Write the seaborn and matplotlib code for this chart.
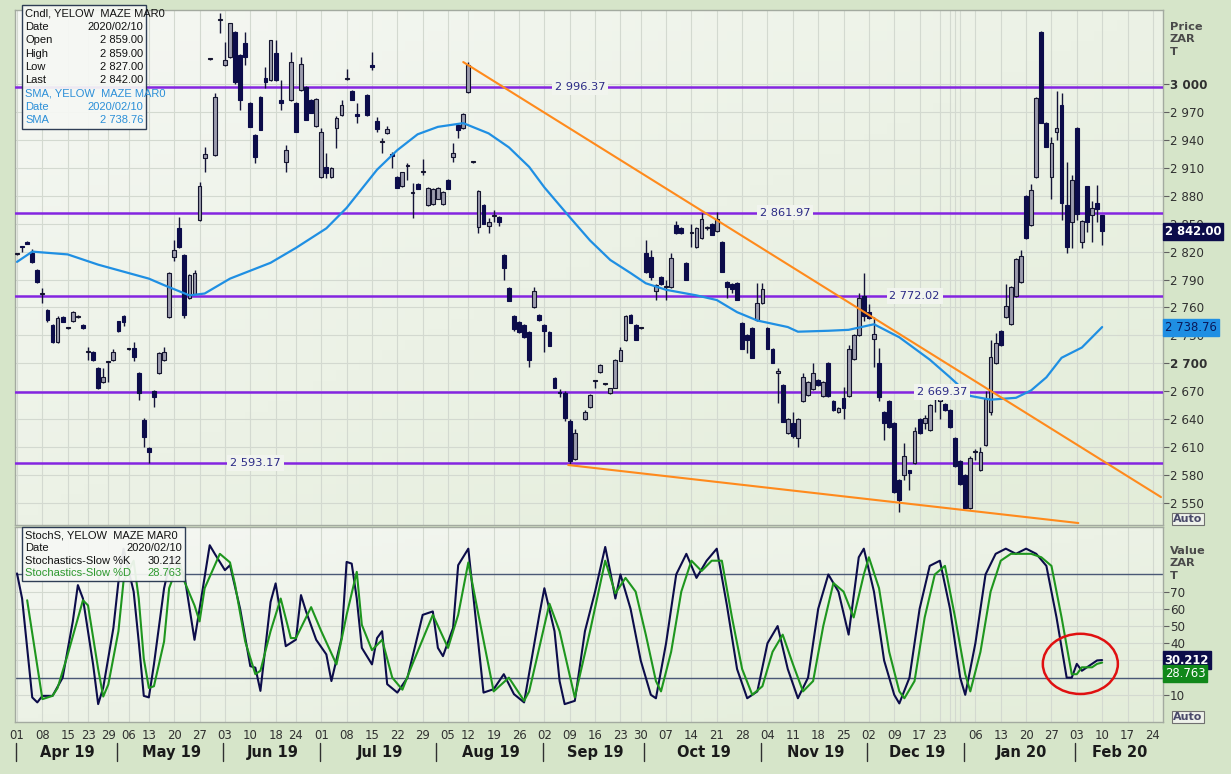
import numpy as np
import pandas as pd
import matplotlib
matplotlib.use("Agg")
import matplotlib.pyplot as plt
import matplotlib.transforms as mtransforms
from matplotlib.colors import LinearSegmentedColormap
from matplotlib.patches import Rectangle, Ellipse
import seaborn as sns

sns.set_theme(style="white")
plt.rcParams["font.family"] = ["DejaVu Sans"]

NAN = np.nan
# ---------------------------------------------------------------- candles
# one row per trading day, 2019-04-01 .. 2020-02-10 (index = trading day)
OPEN = [2817, 2826, 2830, 2819, 2800, 2774, 2757, 2741, 2723, 2750,
        2738, 2745, 2750, 2741, 2712, 2712, 2695, 2680, 2701, 2704,
        2745, 2751, 2715, 2716, 2690, 2639, 2609, 2670, 2690, 2704,
        2750, 2814, 2845, 2816, 2770, 2775, 2854, 2921, 3027, 2924,
        3069, 3020, 3029, 3056, 3031, 3044, 2980, 2945, 2986, 3006,
        3004, 3033, 2983, 2916, 2983, 2980, 2994, 2997, 2983, 2955,
        2900, 2911, 2900, 2953, 2967, 3005, 2993, 2968, NAN, 2988,
        3020, 2960, 2938, 2947, 2925, 2900, 2890, 2912, 2883, 2893,
        2905, 2870, 2871, 2877, 2871, 2897, 2922, 2956, 2953, 2991,
        2916, 2846, 2870, 2847, 2858, 2857, 2816, 2781, 2751, 2744,
        2741, 2734, 2760, 2752, 2741, 2734, 2684, 2669, 2668, 2638,
        2597, NAN, 2640, 2653, 2681, 2691, 2678, 2668, 2674, 2703,
        2725, 2752, 2741, 2738, 2818, 2814, 2778, 2793, 2782, 2782,
        2849, 2845, 2808, 2840, 2825, 2835, 2845, 2850, 2842, 2830,
        2787, 2785, 2786, 2743, 2730, 2738, 2747, 2765, 2738, 2715,
        2690, 2677, 2625, 2636, 2620, 2660, 2666, 2672, 2682, 2665,
        2700, 2660, 2648, 2663, 2665, 2705, 2730, 2772, 2755, 2726,
        2700, 2648, 2660, 2636, 2575, 2580, 2585, 2593, 2640, 2636,
        2628, 2663, 2660, 2656, 2650, 2620, 2595, 2580, 2545, 2605,
        2585, 2612, 2648, 2700, 2735, 2750, 2742, 2772, 2787, 2880,
        2849, 2900, 3056, 2958, 2900, 2948, 2977, 2870, 2852, 2953,
        2830, 2890, 2859, 2872, 2859]
HIGH = [2818, 2826, 2831, 2823, 2801, 2781, 2758, 2742, 2751, 2751,
        2738, 2756, 2752, 2742, 2718, 2713, 2696, 2695, 2702, 2715,
        2746, 2752, 2716, 2723, 2691, 2641, 2610, 2671, 2712, 2718,
        2798, 2832, 2857, 2817, 2796, 2800, 2895, 2932, 3028, 2990,
        3076, 3045, 3066, 3057, 3032, 3056, 2981, 2946, 2987, 3018,
        3047, 3047, 3004, 2935, 3034, 2981, 3029, 2998, 2984, 2985,
        2953, 2926, 2911, 2966, 2983, 3016, 2994, 2980, NAN, 2989,
        3034, 2965, 2942, 2955, 2927, 2901, 2905, 2915, 2894, 2894,
        2920, 2889, 2888, 2889, 2885, 2898, 2937, 2957, 2969, 3024,
        2916, 2886, 2871, 2856, 2865, 2858, 2817, 2782, 2752, 2745,
        2742, 2735, 2782, 2753, 2742, 2735, 2685, 2672, 2670, 2640,
        2630, NAN, 2650, 2667, 2682, 2699, 2679, 2674, 2705, 2718,
        2752, 2753, 2742, 2739, 2833, 2822, 2785, 2794, 2790, 2818,
        2853, 2846, 2809, 2850, 2846, 2862, 2847, 2851, 2863, 2831,
        2788, 2786, 2787, 2744, 2731, 2739, 2786, 2786, 2739, 2716,
        2695, 2678, 2641, 2648, 2641, 2690, 2681, 2700, 2683, 2681,
        2701, 2661, 2653, 2675, 2720, 2731, 2776, 2797, 2764, 2750,
        2716, 2649, 2661, 2637, 2576, 2615, 2586, 2632, 2641, 2645,
        2656, 2670, 2670, 2657, 2651, 2621, 2596, 2581, 2600, 2608,
        2610, 2670, 2725, 2733, 2736, 2785, 2783, 2813, 2822, 2881,
        2893, 2986, 3057, 2959, 2943, 2993, 2990, 2916, 2902, 2954,
        2854, 2891, 2874, 2892, 2859]
LOW = [2816, 2820, 2828, 2808, 2786, 2765, 2744, 2722, 2722, 2744,
       2737, 2744, 2749, 2737, 2704, 2703, 2672, 2679, 2680, 2703,
       2734, 2740, 2714, 2703, 2661, 2610, 2593, 2653, 2689, 2703,
       2749, 2810, 2824, 2749, 2769, 2774, 2853, 2905, 3026, 2923,
       3055, 3019, 3028, 3000, 2972, 3020, 2954, 2915, 2951, 2996,
       3003, 3003, 2972, 2905, 2982, 2948, 2993, 2961, 2969, 2954,
       2899, 2899, 2899, 2931, 2966, 3004, 2983, 2958, NAN, 2966,
       3015, 2948, 2926, 2946, 2910, 2888, 2889, 2897, 2856, 2887,
       2902, 2869, 2870, 2876, 2870, 2887, 2916, 2942, 2952, 2990,
       2915, 2840, 2850, 2840, 2852, 2848, 2789, 2767, 2735, 2733,
       2727, 2696, 2759, 2746, 2712, 2719, 2673, 2664, 2638, 2592,
       2596, NAN, 2639, 2652, 2674, 2690, 2677, 2667, 2673, 2702,
       2724, 2743, 2725, 2737, 2797, 2790, 2768, 2784, 2768, 2781,
       2839, 2839, 2790, 2825, 2824, 2834, 2843, 2838, 2841, 2798,
       2770, 2776, 2768, 2715, 2711, 2706, 2746, 2764, 2715, 2700,
       2657, 2637, 2624, 2620, 2610, 2659, 2665, 2671, 2676, 2664,
       2664, 2649, 2647, 2640, 2664, 2704, 2729, 2745, 2748, 2696,
       2660, 2618, 2631, 2561, 2540, 2575, 2564, 2592, 2624, 2630,
       2627, 2648, 2640, 2649, 2631, 2589, 2569, 2545, 2544, 2596,
       2584, 2611, 2645, 2699, 2719, 2749, 2741, 2771, 2786, 2834,
       2848, 2899, 2958, 2932, 2876, 2940, 2854, 2818, 2824, 2854,
       2824, 2841, 2830, 2852, 2827]
CLOSE = [2817, 2825, 2828, 2809, 2787, 2774, 2747, 2723, 2749, 2744,
         2738, 2755, 2751, 2738, 2712, 2704, 2673, 2685, 2701, 2712,
         2735, 2744, 2715, 2707, 2668, 2621, 2605, 2664, 2711, 2712,
         2797, 2822, 2825, 2752, 2795, 2797, 2890, 2925, 3027, 2986,
         3069, 3026, 3066, 3002, 2983, 3029, 2954, 2922, 2951, 3002,
         3047, 3004, 2980, 2929, 3024, 2948, 3022, 2961, 2969, 2984,
         2948, 2904, 2910, 2963, 2978, 3006, 2983, 2966, NAN, 2967,
         3018, 2952, 2938, 2952, 2923, 2888, 2905, 2912, 2883, 2887,
         2905, 2888, 2887, 2888, 2884, 2887, 2926, 2951, 2968, 3020,
         2916, 2885, 2850, 2852, 2858, 2852, 2802, 2767, 2737, 2734,
         2728, 2704, 2778, 2747, 2735, 2719, 2674, 2668, 2641, 2595,
         2625, NAN, 2648, 2666, 2681, 2698, 2678, 2673, 2704, 2714,
         2751, 2743, 2725, 2738, 2798, 2793, 2784, 2785, 2782, 2813,
         2840, 2840, 2790, 2840, 2845, 2855, 2845, 2838, 2855, 2798,
         2782, 2780, 2768, 2715, 2725, 2706, 2765, 2780, 2715, 2700,
         2692, 2637, 2640, 2622, 2640, 2685, 2680, 2690, 2677, 2680,
         2665, 2650, 2652, 2652, 2715, 2730, 2770, 2751, 2749, 2732,
         2664, 2636, 2632, 2562, 2553, 2600, 2582, 2627, 2625, 2641,
         2655, 2663, 2660, 2650, 2632, 2590, 2570, 2545, 2598, 2605,
         2605, 2662, 2707, 2722, 2720, 2762, 2782, 2812, 2815, 2835,
         2886, 2985, 2958, 2932, 2937, 2953, 2872, 2825, 2897, 2860,
         2853, 2852, 2867, 2866, 2842]

# ---------------------------------------------------------------- SMA
SMA_IDX = [0, 3, 10, 16, 26, 29, 34, 37, 42, 50, 55, 61, 65, 71, 75, 79,
           83, 88, 93, 97, 101, 104, 109, 113, 117, 121, 124, 128, 134,
           138, 142, 146, 152, 154, 160, 164, 169, 174, 180, 184, 188,
           192, 197, 200, 203, 206, 210, 214]
SMA_VAL = [2809, 2820, 2817, 2806, 2791, 2784, 2773, 2775, 2791, 2808,
           2824, 2845, 2867, 2908, 2929, 2946, 2954, 2958, 2947, 2932,
           2911, 2889, 2857, 2832, 2811, 2797, 2786, 2779, 2773, 2768,
           2755, 2746, 2739, 2734, 2735, 2736, 2742, 2728, 2704, 2685,
           2665, 2661, 2663, 2671, 2685, 2706, 2717, 2739]

# ---------------------------------------------------------------- stochastics
K_IDX = [0, 1, 3, 4, 5, 7, 9, 11, 12, 13, 15, 16, 17, 19, 20, 21, 23, 24,
         25, 26, 27, 29, 30, 31, 33, 35, 36, 38, 39, 41, 42, 44, 46, 47,
         48, 50, 51, 53, 55, 56, 57, 59, 61, 62, 64, 65, 66, 67, 68, 70,
         71, 72, 73, 75, 77, 80, 82, 83, 84, 86, 87, 89, 92, 94, 96, 98,
         100, 103, 104, 106, 107, 108, 110, 112, 114, 116, 117, 118, 119,
         121, 123, 125, 126, 128, 130, 132, 134, 136, 138, 140, 142, 144,
         146, 148, 150, 152, 154, 156, 158, 160, 162, 164, 166, 167, 169,
         171, 173, 174, 176, 178, 180, 182, 184, 186, 187, 189, 191, 193,
         195, 197, 199, 201, 203, 205, 207, 208, 209, 210, 212, 213, 214]
K_VAL = [80.6, 66, 8.5, 5.6, 9.4, 9.4, 20, 52.7, 73.8, 66, 27.7, 4.6,
         14.2, 48.8, 75.8, 95, 70, 41, 9.4, 8.5, 27.7, 72, 85, 90, 79.6,
         42, 60, 97, 92, 82.5, 85.4, 60, 26.7, 25.8, 12.3, 64, 74.8,
         38.3, 42.1, 68, 58.5, 42, 33.5, 18, 43, 87.3, 86.3, 66, 37.3,
         27.7, 43, 47, 16.2, 11.3, 20, 56.5, 58.5, 37.3, 32.5, 49, 85.4,
         95, 11.3, 13.3, 22, 10.4, 5.6, 56.5, 72, 47, 18, 4.6, 6.5, 47,
         70, 96, 81.5, 66, 80, 60, 30, 10, 8, 40, 80, 92, 78, 88, 95, 62,
         25, 8, 12, 40, 50, 25, 8, 20, 60, 80, 70, 45, 90, 95, 70, 30,
         10, 5, 20, 60, 85, 88, 60, 20, 10, 40, 80, 92, 95, 92, 95, 92,
         85, 55, 20, 20, 28, 24, 28, 30, 30.212]
D_IDX = [2, 5, 7, 8, 10, 13, 14, 16, 17, 18, 20, 21, 23, 24, 25, 26, 27,
         29, 30, 32, 33, 35, 36, 37, 40, 42, 43, 45, 47, 48, 50, 52, 54,
         55, 58, 60, 63, 65, 67, 68, 70, 72, 74, 76, 78, 82, 85, 87, 89,
         91, 94, 97, 100, 101, 105, 107, 110, 113, 116, 118, 120, 122,
         124, 126, 127, 129, 131, 133, 135, 137, 139, 141, 143, 145, 147,
         149, 151, 153, 155, 157, 159, 161, 163, 165, 167, 168, 170, 172,
         174, 175, 177, 179, 181, 183, 185, 187, 188, 190, 192, 194, 196,
         198, 200, 202, 204, 206, 208, 209, 210, 212, 213, 214]
D_VAL = [65, 7.5, 9.4, 14, 33.5, 65, 62, 25, 9, 16, 47, 76, 88, 66, 31,
         14, 15, 41, 72, 88, 76, 62, 52.7, 72, 92, 87, 74, 41, 22, 24, 47,
         66, 43, 43, 61, 47, 27.7, 56.5, 81.5, 50.7, 36, 42, 20, 13, 28,
         56.5, 37.3, 56.5, 87, 56.5, 12, 20, 6.5, 12, 63, 47, 8.5, 47, 88,
         69, 78, 70, 45, 18, 12, 35, 70, 88, 82, 88, 88, 55, 25, 10, 15,
         35, 45, 28, 12, 18, 50, 75, 70, 55, 80, 90, 72, 35, 12, 8, 18,
         55, 80, 85, 55, 22, 12, 35, 70, 88, 92, 92, 92, 90, 85, 55, 22,
         22, 26, 26, 28, 28.763]

# ---------------------------------------------------------------- levels / trend
LEVELS = [2996.37, 2861.97, 2772.02, 2669.37, 2593.17]
LEVEL_LABEL_IDX = [111, 151.5, 177, 182.5, 47]
TREND_UP_IDX = [88, 225.6]
TREND_UP_VAL = [3023.6, 2556.4]
TREND_LO_IDX = [108.7, 209.3]
TREND_LO_VAL = [2590.8, 2528.5]

# ---------------------------------------------------------------- axis labels
TICK_IDX = [0, 5, 10, 14, 18, 22, 26, 31, 36, 41, 46, 51, 55, 60, 65, 70,
            75, 80, 85, 89, 94, 99, 104, 109, 114, 119, 123, 128, 133, 138,
            143, 148, 153, 158, 163, 168, 173, 178, 182, 184, 185, 186, 189,
            194, 199, 204, 209, 214, 219, 224]
TICK_LBL = ["01", "08", "15", "23", "29", "06", "13", "20", "27", "03", "10",
            "18", "24", "01", "08", "15", "22", "29", "05", "12", "19", "26",
            "02", "09", "16", "23", "30", "07", "14", "21", "28", "04", "11",
            "18", "25", "02", "09", "17", "23", "", "", "", "06", "13", "20",
            "27", "03", "10", "17", "24"]
MONTH_START = [0, 20, 41, 60, 83, 104, 124, 147, 168, 187, 209]
MONTH_LBL = ["Apr 19", "May 19", "Jun 19", "Jul 19", "Aug 19", "Sep 19",
             "Oct 19", "Nov 19", "Dec 19", "Jan 20", "Feb 20"]
PRICE_TICKS = list(range(2550, 3001, 30))
STOCH_TICKS = [10, 20, 30, 40, 50, 60, 70]

W, H = 1231, 774
FIG_BG = "#d6e5c9"
AX_BG = "#eef3ea"
NAVY = "#0c0c4a"
GREY = "#9c9cae"
PURPLE = "#8425e0"
ORANGE = "#ff8a1c"
BLUE = "#1f8fe3"
GREEN = "#1e961e"
GRID = "#d3d9d0"
BG_CMAP = LinearSegmentedColormap.from_list("bg", ["#f5f7f3", "#e3edd9"])
BOX_FONT = ["Liberation Sans", "DejaVu Sans"]


def px_box(x0, y0, x1, y1):
    return [x0 / W, 1 - y1 / H, (x1 - x0) / W, (y1 - y0) / H]


def fx(x):
    return x / W


def fy(y):
    return 1 - y / H


def spaced(v, nd=0):
    return f"{v:,.{nd}f}".replace(",", " ")


def shade(a):
    # soft diagonal wash like the terminal's panel background
    g = np.add.outer(np.linspace(0, 0.6, 50), np.linspace(0, 0.6, 50))
    a.imshow(g, extent=[0, 1, 0, 1], transform=a.transAxes, cmap=BG_CMAP,
             vmin=0, vmax=1.2, aspect="auto", zorder=0, origin="upper")


def info_box(fig, x0, y0, x1, rows, row_h=13.2):
    y1 = y0 + row_h * len(rows) + 4
    fig.patches.append(Rectangle((fx(x0), fy(y1)), fx(x1 - x0), (y1 - y0) / H,
                                 transform=fig.transFigure, facecolor="#f6f8f4",
                                 edgecolor="#20304a", lw=1.0, alpha=0.93, zorder=10))
    for k, (lab, val, col) in enumerate(rows):
        yy = fy(y0 + 2 + row_h * (k + 0.5))
        fig.text(fx(x0 + 3), yy, lab, ha="left", va="center", fontsize=8.0,
                 family=BOX_FONT, color=col, zorder=11)
        if val:
            fig.text(fx(x1 - 3), yy, val, ha="right", va="center", fontsize=8.0,
                     family=BOX_FONT, color=col, zorder=11)


def main():
    fig = plt.figure(figsize=(W / 100, H / 100), dpi=100, facecolor=FIG_BG)
    ax = fig.add_axes(px_box(15, 10, 1163, 525), facecolor=AX_BG)
    ax2 = fig.add_axes(px_box(15, 527, 1163, 722), facecolor=AX_BG)
    xlim = (-0.4, 226)
    shade(ax)
    shade(ax2)

    # ------------------------------------------------ price panel
    df = pd.DataFrame({"o": OPEN, "h": HIGH, "l": LOW, "c": CLOSE})
    df["i"] = np.arange(len(df))
    df = df.dropna()
    up = df["c"] >= df["o"]
    ax.vlines(df["i"], df["l"], df["h"], color="#141438", lw=1.0, zorder=4)
    body_up = (df["c"] - df["o"]).clip(lower=1.2)
    body_dn = (df["o"] - df["c"]).clip(lower=1.2)
    ax.bar(df["i"][up], body_up[up], bottom=df["o"][up], width=0.75,
           color=GREY, edgecolor="#14142e", lw=0.8, zorder=5)
    ax.bar(df["i"][~up], body_dn[~up], bottom=df["c"][~up], width=0.75,
           color=NAVY, edgecolor=NAVY, lw=0.8, zorder=5)

    sns.lineplot(x=SMA_IDX, y=SMA_VAL, ax=ax, color=BLUE, lw=1.6, zorder=6)

    for lvl, li in zip(LEVELS, LEVEL_LABEL_IDX):
        ax.axhline(lvl, color=PURPLE, lw=1.8, zorder=3)
        ax.text(li, lvl, spaced(lvl, 2), ha="center", va="center", fontsize=8.2,
                color="#2b2a86", zorder=7,
                bbox=dict(boxstyle="square,pad=0.25", fc="#f1f4ee", ec="none"))
    ax.plot(TREND_UP_IDX, TREND_UP_VAL, color=ORANGE, lw=1.5, zorder=6)
    ax.plot(TREND_LO_IDX, TREND_LO_VAL, color=ORANGE, lw=1.5, zorder=6)

    ax.set_xlim(*xlim)
    ax.set_ylim(2526.4, 3079.5)
    ax.set_xticks(TICK_IDX)
    ax.tick_params(axis="x", length=0, labelbottom=False)
    ax.yaxis.tick_right()
    ax.set_yticks(PRICE_TICKS)
    ax.set_yticklabels([spaced(v) for v in PRICE_TICKS])
    ax.tick_params(axis="y", length=4, width=0.8, color="#606060",
                   labelsize=8.6, labelcolor="#303030", pad=1)
    for t, v in zip(ax.get_yticklabels(), PRICE_TICKS):
        if v in (3000, 2700):
            t.set_fontweight("bold")
    ax.grid(True, color=GRID, lw=0.8)
    ax.set_axisbelow(True)
    ax.set_xlabel("")
    ax.set_ylabel("")

    tr = mtransforms.blended_transform_factory(ax.transAxes, ax.transData)
    ax.text(1.0015, 2842, "2 842.00", transform=tr, ha="left", va="center",
            fontsize=8.4, fontweight="bold", color="white", clip_on=False,
            zorder=12, bbox=dict(boxstyle="square,pad=0.18", fc=NAVY, ec=NAVY))
    ax.text(1.0015, 2738.76, "2 738.76", transform=tr, ha="left", va="center",
            fontsize=8.4, color="#0a1a5a", clip_on=False, zorder=12,
            bbox=dict(boxstyle="square,pad=0.18", fc=BLUE, ec=BLUE))

    # ------------------------------------------------ stochastic panel
    ax2.axhline(80, color="#4a5876", lw=1.0, zorder=2)
    ax2.axhline(20, color="#4a5876", lw=1.0, zorder=2)
    sns.lineplot(x=K_IDX, y=K_VAL, ax=ax2, color=NAVY, lw=1.5, zorder=4)
    sns.lineplot(x=D_IDX, y=D_VAL, ax=ax2, color=GREEN, lw=1.5, zorder=5)
    ax2.add_patch(Ellipse((209.7, 28), width=14.8, height=35, fill=False,
                          ec="#e01010", lw=1.8, zorder=8))
    ax2.set_xlim(*xlim)
    ax2.set_ylim(-5.8, 107.6)
    ax2.yaxis.tick_right()
    ax2.set_yticks(STOCH_TICKS)
    ax2.set_yticklabels([str(v) for v in STOCH_TICKS])
    ax2.tick_params(axis="y", length=4, width=0.8, color="#606060",
                    labelsize=8.6, labelcolor="#303030", pad=1)
    ax2.set_xticks(TICK_IDX)
    ax2.set_xticklabels(TICK_LBL)
    ax2.tick_params(axis="x", length=3, width=0.8, color="#606060",
                    labelsize=8.4, labelcolor="#303030", pad=2)
    ax2.grid(True, color=GRID, lw=0.8)
    ax2.set_axisbelow(True)
    ax2.set_xlabel("")
    ax2.set_ylabel("")

    tr2 = mtransforms.blended_transform_factory(ax2.transAxes, ax2.transData)
    ax2.text(1.0015, 30.212, "30.212", transform=tr2, ha="left", va="center",
             fontsize=8.4, fontweight="bold", color="white", clip_on=False,
             zorder=12, bbox=dict(boxstyle="square,pad=0.18", fc=NAVY, ec=NAVY))
    ax2.text(1.0015, 22.5, "28.763", transform=tr2, ha="left", va="center",
             fontsize=8.4, color="white", clip_on=False, zorder=12,
             bbox=dict(boxstyle="square,pad=0.18", fc="#11881a", ec="#11881a"))

    # month labels below the day numbers
    trm = mtransforms.blended_transform_factory(ax2.transData, ax2.transAxes)
    bounds = MONTH_START + [xlim[1]]
    for k, lab in enumerate(MONTH_LBL):
        a, b = bounds[k], bounds[k + 1]
        ax2.plot([a - 0.3, a - 0.3], [-0.11, -0.2], transform=trm,
                 color="#303030", lw=1.0, clip_on=False)
        ax2.text((a + b) / 2, -0.155, lab, transform=trm, ha="center",
                 va="center", fontsize=10.5, fontweight="bold",
                 color="#1a1a1a")

    for a in (ax, ax2):
        for s in a.spines.values():
            s.set_color("#a3aaa0")
            s.set_linewidth(1.0)

    # ------------------------------------------------ side labels / boxes
    fig.text(fx(1170), fy(22), "Price\nZAR\nT", ha="left", va="top",
             fontsize=8.2, fontweight="bold", color="#4a4a4a", linespacing=1.3)
    fig.text(fx(1170), fy(546), "Value\nZAR\nT", ha="left", va="top",
             fontsize=8.2, fontweight="bold", color="#4a4a4a", linespacing=1.3)
    for yy in (519, 717):
        fig.text(fx(1188), fy(yy), "Auto", ha="center", va="center",
                 fontsize=8, fontweight="bold", color="#4a4a6a",
                 bbox=dict(boxstyle="square,pad=0.12", fc="#eef2ea",
                           ec="#707070", lw=0.8))

    info_box(fig, 22, 5, 146, [
        ("Cndl, YELOW  MAZE MAR0", "", "#111111"),
        ("Date", "2020/02/10", "#111111"),
        ("Open", "2 859.00", "#111111"),
        ("High", "2 859.00", "#111111"),
        ("Low", "2 827.00", "#111111"),
        ("Last", "2 842.00", "#111111"),
        ("SMA, YELOW  MAZE MAR0", "", "#2b8fd8"),
        ("Date", "2020/02/10", "#2b8fd8"),
        ("SMA", "2 738.76", "#2b8fd8"),
    ], row_h=13.3)
    info_box(fig, 22, 527, 185, [
        ("StochS, YELOW  MAZE MAR0", "", "#111111"),
        ("Date", "2020/02/10", "#111111"),
        ("Stochastics-Slow %K", "30.212", "#111111"),
        ("Stochastics-Slow %D", "28.763", "#2e9a2e"),
    ], row_h=12.6)

    fig.savefig("out.png", dpi=100, facecolor=FIG_BG)
    plt.close(fig)


if __name__ == "__main__":
    main()
